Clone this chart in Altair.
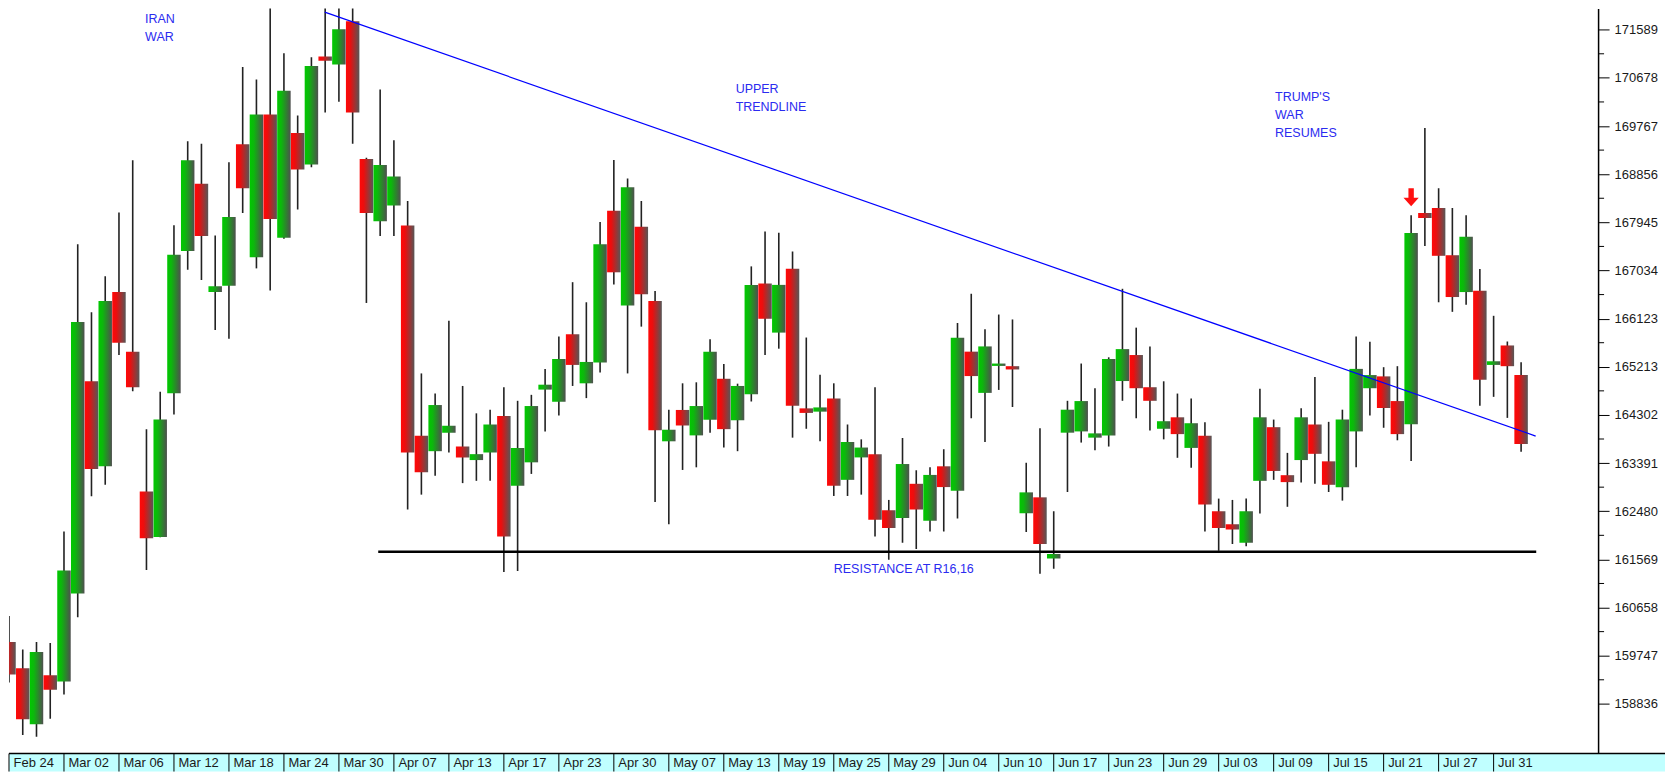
import altair as alt
import pandas as pd

# ---- candle data, one entry per trading day ----
opens = [160008, 159509, 158451, 159378, 159260, 160924, 164938, 163330, 166626, 165499,
         162855, 161995, 164713, 167405, 168677, 166626, 166744, 169424, 167286, 169985,
         167654, 169636, 169037, 171081, 170931, 171748, 169144, 167966, 168265, 167884,
         163910, 163616, 163966, 163704, 163448, 163592, 164283, 162962, 163405, 164781,
         164551, 165828, 164900, 165293, 168164, 166370, 167860, 166458, 163803, 164396,
         163915, 164209, 164986, 164201, 164695, 166788, 165859, 167069, 164426, 164364,
         164612, 163074, 163498, 163560, 162500, 162351, 162999, 162302, 163330, 162868,
         165499, 164719, 165229, 165224, 162444, 162743, 161584, 163966, 163990, 163872,
         163915, 164943, 165435, 164826, 164040, 164257, 163678, 163910, 162481, 162233,
         161883, 163055, 164070, 163162, 163448, 164121, 163424, 162934, 163990, 164807,
         165031, 164564, 164126, 168121, 168215, 167323, 166626, 166650, 165248, 165616,
         165056]
highs = [160500, 159864, 160008, 159989, 162096, 167531, 166246, 166925, 168133, 169120,
         164033, 164738, 167891, 169480, 169430, 167697, 169080, 170882, 170645, 172300,
         171144, 169966, 171069, 172097, 172097, 172250, 169168, 170458, 169499, 168351,
         165087, 164706, 166084, 164850, 164332, 164401, 164826, 164569, 164682, 165173,
         165785, 166813, 166433, 167953, 169125, 168776, 168351, 166645, 164401, 164900,
         164919, 165734, 165267, 164893, 167112, 167772, 167747, 167392, 165766, 165061,
         164900, 164121, 163840, 164826, 162694, 163865, 163255, 163311, 163653, 166041,
         166594, 165921, 166201, 166108, 163397, 164052, 162481, 164569, 165274, 164807,
         165392, 166688, 165953, 165598, 164938, 164706, 164612, 164164, 162719, 162694,
         162719, 164799, 164214, 163584, 164426, 165018, 164171, 164401, 165785, 165686,
         165205, 165224, 168078, 169729, 168589, 168215, 168078, 167061, 166177, 165691,
         165299]
lows = [159242, 158245, 158214, 158556, 159012, 160475, 162762, 162980, 165435, 164751,
        161367, 161990, 164308, 167050, 166856, 165910, 165742, 168121, 167074, 166658,
        167635, 168190, 168987, 170022, 170228, 169430, 166420, 167686, 167686, 162513,
        162794, 163149, 163592, 163012, 163055, 163055, 161330, 161349, 163186, 163990,
        164289, 164850, 164620, 165106, 166770, 165087, 165972, 162657, 162233, 163261,
        163311, 163966, 163685, 163616, 164556, 165435, 165555, 163872, 164040, 163803,
        162769, 162769, 162794, 162003, 161560, 161883, 161765, 162096, 162096, 162345,
        164239, 163790, 164775, 164452, 162089, 161298, 161391, 162844, 163779, 163635,
        163704, 164569, 164239, 164009, 163840, 163491, 163304, 162096, 161734, 161859,
        161816, 162438, 163074, 162564, 163023, 162999, 162844, 162681, 163311, 164289,
        164059, 163822, 163429, 167499, 166433, 166252, 166388, 164476, 164644, 164246,
        163603]
closes = [159391, 158544, 159816, 159105, 161360, 166059, 163280, 166458, 165667, 164826,
          161971, 164214, 167331, 169120, 167686, 166738, 168047, 168589, 169985, 168009,
          170434, 168944, 170901, 171000, 171598, 170022, 168121, 169032, 168813, 163592,
          163218, 164489, 164097, 163498, 163560, 164121, 162003, 163678, 164470, 164874,
          165360, 165248, 165304, 167529, 167000, 168607, 166583, 164014, 164022, 164102,
          164470, 165499, 164033, 164850, 166762, 166121, 166762, 164476, 164340, 164444,
          162962, 163790, 163685, 162321, 162164, 163373, 162513, 163167, 162937, 165760,
          165037, 165598, 165274, 165162, 162837, 161859, 161672, 164401, 164564, 163953,
          165360, 165547, 164807, 164569, 164183, 163939, 164145, 162607, 162164, 162134,
          162481, 164257, 163242, 163031, 164257, 163566, 162980, 164214, 165173, 165056,
          164433, 163939, 167742, 168028, 167312, 166532, 167673, 164968, 165317, 165224,
          163753]

# ---- axis labels ----
date_labels = ["Feb 24", "Mar 02", "Mar 06", "Mar 12", "Mar 18", "Mar 24", "Mar 30",
               "Apr 07", "Apr 13", "Apr 17", "Apr 23", "Apr 30", "May 07", "May 13",
               "May 19", "May 25", "May 29", "Jun 04", "Jun 10", "Jun 17", "Jun 23",
               "Jun 29", "Jul 03", "Jul 09", "Jul 15", "Jul 21", "Jul 27", "Jul 31"]
days_per_label = 4
y_ticks = [171589, 170678, 169767, 168856, 167945, 167034, 166123, 165213,
           164302, 163391, 162480, 161569, 160658, 159747, 158836]

# ---- drawn lines ----
trend_x = [22.97, 111.06]
trend_y = [171922, 163902]
support_x = [26.86, 111.1]
support_y = [161715, 161715]

# ---- annotations ----
note_text = ["IRAN\nWAR", "UPPER\nTRENDLINE", "TRUMP'S\nWAR\nRESUMES", "RESISTANCE AT R16,16"]
note_x = [9.9, 52.86, 92.1, 60.0]
note_y = [171718, 170400, 170243, 161307]
arrow_x = [102]
arrow_y = [168420]

# ---- layout ----
W, H = 1591, 746
BAND = 18
FULLW = 1658

candles = pd.DataFrame({"open": opens, "high": highs, "low": lows, "close": closes})
candles["idx"] = range(len(candles))
candles["x0"] = candles["idx"] - 0.49
candles["x1"] = candles["idx"] + 0.49
candles["btop"] = candles[["open", "close"]].max(axis=1)
candles["bbot"] = candles[["open", "close"]].min(axis=1)
candles["up"] = candles["close"] >= candles["open"]

labels_df = pd.DataFrame({"label": date_labels})
labels_df["pos"] = [i * days_per_label for i in range(len(date_labels))]

xscale = alt.Scale(domain=[0, 115.6], nice=False, zero=False)
yscale = alt.Scale(domain=[157896, 171991], nice=False, zero=False)

FONT = "Liberation Sans"
label_js = "[" + ",".join("'" + s + "'" for s in date_labels) + "][round(datum.value/%d)]" % days_per_label

x_axis = alt.Axis(values=labels_df["pos"].tolist(), labelExpr=label_js,
                  ticks=False, tickSize=0, domain=False, grid=False,
                  labelAlign="left", labelOffset=4, labelPadding=9,
                  labelBaseline="middle", labelFontSize=13, labelFont=FONT,
                  labelColor="#1a1a1a", labelOverlap=False, labelFlush=False,
                  labelBound=False, zindex=1)
y_axis = alt.Axis(orient="right", values=y_ticks, format="d", grid=False,
                  tickSize=11, tickColor="black", tickWidth=1,
                  domainColor="black", domainWidth=1.5,
                  labelFontSize=13, labelFont=FONT, labelColor="#1a1a1a",
                  labelPadding=5, labelOverlap=False, labelFlush=False, zindex=1)

def X(field):
    return alt.X(field, scale=xscale, title="", axis=x_axis)

def Y(field):
    return alt.Y(field, scale=yscale, title="", axis=y_axis)

one = pd.DataFrame({"a": [0]})

band = alt.Chart(one).mark_rect(clip=False, color="#c0ffff").encode(
    x=alt.value(0), x2=alt.value(FULLW), y=alt.value(H), y2=alt.value(H + BAND))
band_top = alt.Chart(one).mark_rule(clip=False, color="black", strokeWidth=1.5).encode(
    x=alt.value(0), x2=alt.value(FULLW), y=alt.value(H))
cell_lines = alt.Chart(labels_df).mark_rule(clip=False, color="black", strokeWidth=1).encode(
    x=X("pos:Q"), y=alt.value(H), y2=alt.value(H + BAND))

wicks = alt.Chart(candles).mark_rule(color="#222222", strokeWidth=1.6, clip=True).encode(
    x=X("idx:Q"), y=Y("low:Q"), y2="high:Q")

green_grad = alt.Gradient(gradient="linear", x1=0, x2=1, y1=0, y2=0, stops=[
    alt.GradientStop(color="#00c800", offset=0),
    alt.GradientStop(color="#0cb80c", offset=0.3),
    alt.GradientStop(color="#4f4f4f", offset=1)])
red_grad = alt.Gradient(gradient="linear", x1=0, x2=1, y1=0, y2=0, stops=[
    alt.GradientStop(color="#ff0808", offset=0),
    alt.GradientStop(color="#ec0e0e", offset=0.3),
    alt.GradientStop(color="#565656", offset=1)])

def bodies(is_up, grad):
    return alt.Chart(candles).transform_filter(
        alt.datum.up if is_up else ~alt.datum.up
    ).mark_rect(color=grad, clip=True).encode(
        x=X("x0:Q"), x2="x1:Q", y=Y("bbot:Q"), y2="btop:Q")

up_bodies = bodies(True, green_grad)
down_bodies = bodies(False, red_grad)

trend = alt.Chart(pd.DataFrame({"x": trend_x, "y": trend_y})).mark_line(
    color="#0000ff", strokeWidth=1.2, clip=True).encode(x=X("x:Q"), y=Y("y:Q"))
support = alt.Chart(pd.DataFrame({"x": support_x, "y": support_y})).mark_line(
    color="black", strokeWidth=2.6, clip=True).encode(x=X("x:Q"), y=Y("y:Q"))

notes = alt.Chart(pd.DataFrame({"t": note_text, "x": note_x, "y": note_y})).mark_text(
    align="left", baseline="alphabetic", lineBreak="\n", lineHeight=18,
    fontSize=12.5, font=FONT, color="#2b2bf0").encode(
    x=X("x:Q"), y=Y("y:Q"), text="t:N")

arrow_path = "M-0.3,-1L0.3,-1L0.3,0.05L0.85,0.05L0,1L-0.85,0.05L-0.3,0.05Z"
arrow = alt.Chart(pd.DataFrame({"x": arrow_x, "y": arrow_y})).mark_point(
    shape=arrow_path, filled=True, color="#ff1010", size=324, opacity=1,
    strokeWidth=0).encode(x=X("x:Q"), y=Y("y:Q"))

minor_df = pd.DataFrame({"m": [(a + b) / 2 for a, b in zip(y_ticks[:-1], y_ticks[1:])]})
minor = alt.Chart(minor_df).mark_rule(clip=False, color="black", strokeWidth=1).encode(
    x=alt.value(W), x2=alt.value(W + 6), y=Y("m:Q"))

chart = alt.layer(
    wicks, band, band_top, cell_lines, up_bodies, down_bodies,
    trend, support, notes, arrow, minor
).properties(
    width=W, height=H, padding=0, background="white"
).configure_view(strokeWidth=0)

chart.save("out.html", embed_options={"renderer": "svg", "actions": False})
